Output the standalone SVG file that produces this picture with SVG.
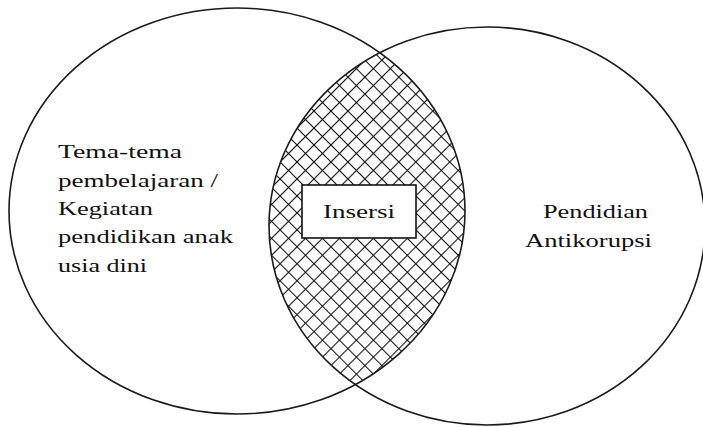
<svg xmlns="http://www.w3.org/2000/svg" width="703" height="427" viewBox="0 0 703 427">
<style>
.outline{fill:none;stroke:#1a1a1a;stroke-width:1.6}
.t{font-family:'Liberation Serif','Times New Roman',serif;font-size:19px;fill:#111}
</style>
<defs>
<pattern id="hatch" width="12" height="12" patternUnits="userSpaceOnUse" patternTransform="rotate(45)">
<rect width="12" height="12" fill="#fff"/>
<path d="M0 0H12M0 0V12" stroke="#111" stroke-width="2.2"/>
</pattern>
<clipPath id="leftClip"><ellipse cx="237" cy="211" rx="228" ry="203"/></clipPath>
</defs>
<rect width="703" height="427" fill="#fff"/>
<g id="intersection">
<ellipse cx="487" cy="226" rx="218" ry="199" fill="url(#hatch)" clip-path="url(#leftClip)"/>
</g>
<g id="left-set">
<ellipse class="outline" cx="237" cy="211" rx="228" ry="203"/>
<text class="t" x="58" y="158" textLength="124" lengthAdjust="spacingAndGlyphs">Tema-tema</text>
<text class="t" x="58" y="187" textLength="160" lengthAdjust="spacingAndGlyphs">pembelajaran /</text>
<text class="t" x="58" y="215" textLength="95" lengthAdjust="spacingAndGlyphs">Kegiatan</text>
<text class="t" x="58" y="243" textLength="175" lengthAdjust="spacingAndGlyphs">pendidikan anak</text>
<text class="t" x="58" y="272" textLength="89" lengthAdjust="spacingAndGlyphs">usia dini</text>
</g>
<g id="right-set">
<ellipse class="outline" cx="487" cy="226" rx="218" ry="199"/>
<text class="t" x="543" y="218" textLength="105" lengthAdjust="spacingAndGlyphs">Pendidian</text>
<text class="t" x="525" y="247" textLength="127" lengthAdjust="spacingAndGlyphs">Antikorupsi</text>
</g>
<g id="insersi">
<rect x="302" y="185" width="114" height="53" fill="#fff" stroke="#111" stroke-width="1.6"/>
<text class="t" x="323" y="218" textLength="72" lengthAdjust="spacingAndGlyphs">Insersi</text>
</g>
<g id="connectors"/>
</svg>
